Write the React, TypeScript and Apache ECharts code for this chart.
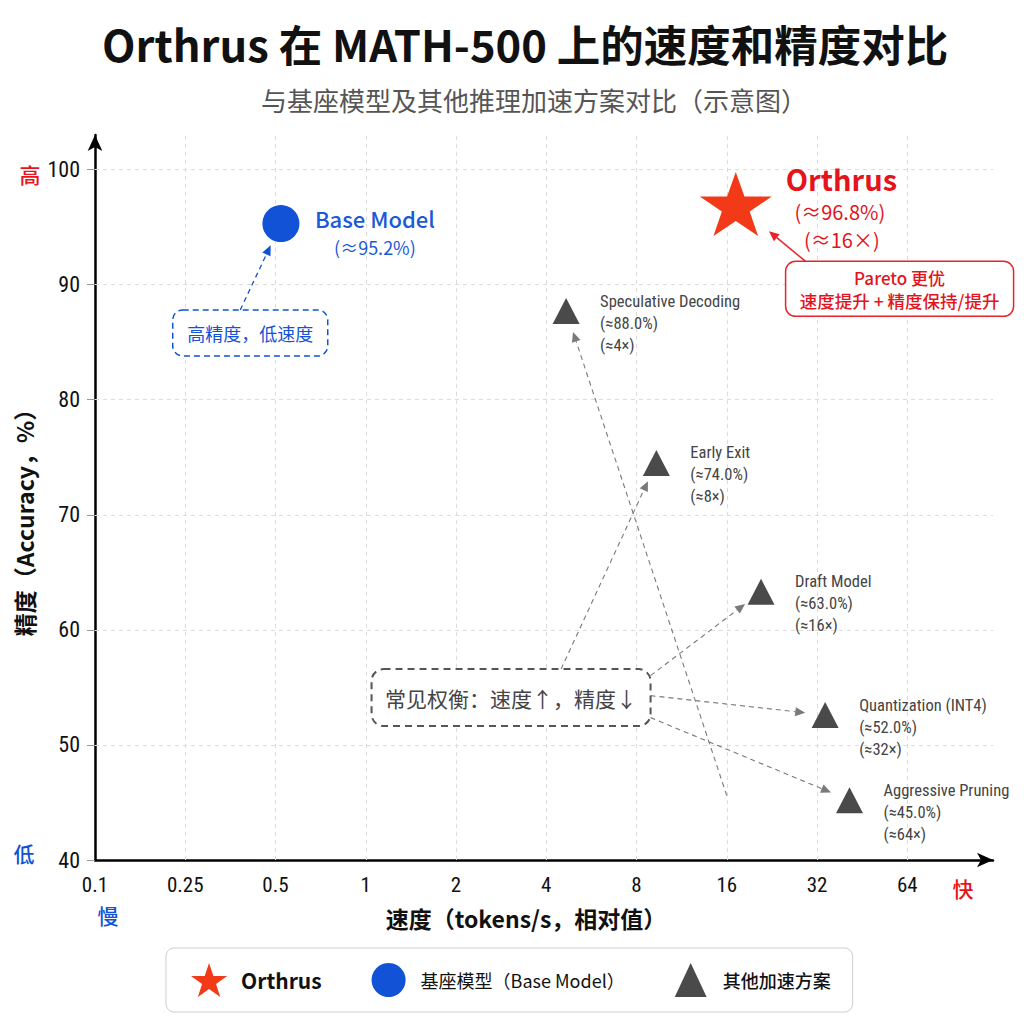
import React, { useEffect, useRef } from 'react';
import * as echarts from 'echarts';

// ---- data ----
const speedTicks = ['0.1', '0.25', '0.5', '1', '2', '4', '8', '16', '32', '64'];
const accuracyTicks = [40, 50, 60, 70, 80, 90, 100];

// x = position on the (evenly spaced) speed scale, index of speedTicks; y = accuracy %
const orthrusPoint = [7.1, 97.0];
const basePoint = [2.06, 95.3];
const otherNames = ['Speculative Decoding', 'Early Exit', 'Draft Model', 'Quantization (INT4)', 'Aggressive Pruning'];
const otherX = [5.22, 6.22, 7.38, 8.09, 8.36];
const otherY = [87.7, 74.5, 63.3, 52.6, 45.2];
const otherAccText = ['(≈88.0%)', '(≈74.0%)', '(≈63.0%)', '(≈52.0%)', '(≈45.0%)'];
const otherSpeedText = ['(≈4×)', '(≈8×)', '(≈16×)', '(≈32×)', '(≈64×)'];

const seriesNames = ['Orthrus', '基座模型（Base Model）', '其他加速方案'];

// annotation anchors in data coordinates
const box1Center = [1.72, 85.8];
const box2Center = [8.915, 89.63];
const box3Center = [4.61, 54.11];
const specArrowStart = [7.0, 45.6];

const CJK = "'Noto Sans CJK SC', 'Noto Sans', sans-serif";
const NARROW = "'Roboto Condensed', 'Liberation Sans Narrow', 'Roboto', sans-serif";
const RED = '#e3141c';
const STAR = '#f23a18';
const BLUE = '#1152d6';
const TRI = '#4a4a4a';

const starPath = 'path://M50,0 L61.8,35.1 L98.9,35.1 L68.9,56.9 L80.3,92.1 L50,70.3 L19.7,92.1 L31.1,56.9 L1.1,35.1 L38.2,35.1 Z';
const triPath = 'path://M15,0 L30,32 L0,32 Z';

function arrow(sx: number, sy: number, ex: number, ey: number, color: string, dashed: boolean, width: number) {
  const dx = ex - sx, dy = ey - sy;
  const L = Math.hypot(dx, dy);
  const ux = dx / L, uy = dy / L;
  const hl = 10, hw = 4.5;
  const bx = ex - ux * hl, by = ey - uy * hl;
  return [
    { type: 'line', z: 50, shape: { x1: sx, y1: sy, x2: bx, y2: by }, style: { stroke: color, lineWidth: width, lineDash: dashed ? [5, 4] : null } },
    { type: 'polygon', z: 50, shape: { points: [[ex, ey], [bx - uy * hw, by + ux * hw], [bx + uy * hw, by - ux * hw]] }, style: { fill: color } },
  ];
}

function toward(p: number[], s: number[], d: number) {
  const dx = s[0] - p[0], dy = s[1] - p[1];
  const L = Math.hypot(dx, dy);
  return [p[0] + (dx / L) * d, p[1] + (dy / L) * d];
}

export default function App() {
  const ref = useRef<HTMLDivElement>(null);
  useEffect(() => {
    if (!ref.current) return;
    const chart = echarts.init(ref.current, null, { renderer: 'svg' });
    const gridMarks = [
      ...speedTicks.slice(1).map((_, i) => ({ xAxis: i + 1 })),
      ...accuracyTicks.slice(1).map((v) => ({ yAxis: v })),
    ];
    chart.setOption({
      animation: false,
      backgroundColor: '#ffffff',
      title: [
        { text: 'Orthrus 在 MATH-500 上的速度和精度对比', left: 97, top: 17, textStyle: { fontFamily: CJK, fontSize: 43.5, fontWeight: 'bold', color: '#111' } },
        { text: '与基座模型及其他推理加速方案对比（示意图）', left: 256, top: 81, textStyle: { fontFamily: CJK, fontSize: 26, fontWeight: 'normal', color: '#555' } },
      ],
      grid: { left: 95, right: 31, top: 135, bottom: 164 },
      xAxis: {
        type: 'value', min: 0, max: 9.95, interval: 1,
        axisLine: { lineStyle: { color: '#000', width: 2.5 }, symbol: ['none', 'arrow'], symbolSize: [11, 16] },
        axisTick: { show: false },
        splitLine: { show: false },
        axisLabel: {
          customValues: speedTicks.map((_, i) => i),
          formatter: (v: number) => (Number.isInteger(v) && v >= 0 && v < speedTicks.length ? speedTicks[v] : ''),
          fontFamily: NARROW, fontSize: 21, color: '#111', margin: 14,
        },
      },
      yAxis: {
        type: 'value', min: 40, max: 103, interval: 10,
        axisLine: { show: true, lineStyle: { color: '#000', width: 2.5 }, symbol: ['none', 'arrow'], symbolSize: [11, 16] },
        axisTick: { show: true, customValues: accuracyTicks, length: 8, lineStyle: { color: '#999' } },
        splitLine: { show: false },
        axisLabel: {
          customValues: accuracyTicks,
          formatter: (v: number) => (accuracyTicks.indexOf(v) >= 0 ? String(v) : ''),
          fontFamily: NARROW, fontSize: 22, color: '#111', margin: 15,
        },
      },
      legend: {
        left: 166, top: 948,
        padding: [15, 22, 15, 25],
        itemGap: 50, itemWidth: 54, itemHeight: 34,
        backgroundColor: '#fff', borderColor: '#cfcfcf', borderWidth: 1, borderRadius: 8,
        data: [
          { name: seriesNames[0], textStyle: { fontFamily: CJK, fontSize: 21, fontWeight: 'bold', color: '#111' } },
          { name: seriesNames[1], textStyle: { fontFamily: CJK, fontSize: 18, color: '#111' } },
          { name: seriesNames[2], icon: triPath, textStyle: { fontFamily: CJK, fontSize: 18, fontWeight: 500, color: '#111' } },
        ],
      },
      series: [
        {
          name: seriesNames[0], type: 'scatter', z: 5, symbol: starPath, symbolSize: [72, 68], symbolKeepAspect: true,
          itemStyle: { color: STAR, opacity: 1 }, data: [orthrusPoint],
        },
        {
          name: seriesNames[1], type: 'scatter', z: 5, symbol: 'circle', symbolSize: 37,
          itemStyle: { color: BLUE, opacity: 1 }, data: [basePoint],
        },
        {
          name: seriesNames[2], type: 'scatter', z: 5, symbol: 'triangle', symbolSize: [27, 26],
          itemStyle: { color: TRI, opacity: 1 }, data: otherX.map((x, i) => [x, otherY[i]]),
          markLine: {
            silent: true, symbol: ['none', 'none'], z: 1, label: { show: false },
            lineStyle: { color: '#dcdcdc', type: [4, 4], width: 1 },
            data: gridMarks,
          },
        },
      ],
    });

    const px = (p: number[]) => chart.convertToPixel({ gridIndex: 0 }, p) as number[];
    const g: any[] = [];

    // Base model label
    const b = px(basePoint);
    g.push({ type: 'text', z: 60, x: b[0] + 34, y: b[1] - 6, style: { text: 'Base Model', fill: '#1a5ad7', fontFamily: CJK, fontSize: 22, fontWeight: 500, align: 'left', verticalAlign: 'middle' } });
    g.push({ type: 'text', z: 60, x: b[0] + 94, y: b[1] + 23, style: { text: '(≈95.2%)', fill: '#1a5ad7', fontFamily: CJK, fontSize: 18, align: 'center', verticalAlign: 'middle' } });

    // Orthrus label
    const o = px(orthrusPoint);
    g.push({ type: 'text', z: 60, x: o[0] + 50, y: o[1] - 26, style: { text: 'Orthrus', fill: RED, fontFamily: CJK, fontSize: 29, fontWeight: 'bold', align: 'left', verticalAlign: 'middle' } });
    g.push({ type: 'text', z: 60, x: o[0] + 104, y: o[1] + 7, style: { text: '(≈96.8%)', fill: RED, fontFamily: CJK, fontSize: 20, align: 'center', verticalAlign: 'middle' } });
    g.push({ type: 'text', z: 60, x: o[0] + 106, y: o[1] + 35, style: { text: '(≈16×)', fill: RED, fontFamily: CJK, fontSize: 20, align: 'center', verticalAlign: 'middle' } });

    // other methods labels
    const triPts = otherX.map((x, i) => px([x, otherY[i]]));
    triPts.forEach((p, i) => {
      g.push({ type: 'text', z: 60, x: p[0] + 34, y: p[1] - 21, style: { text: otherNames[i] + '\n' + otherAccText[i] + '\n' + otherSpeedText[i], fill: '#444', fontFamily: NARROW, fontSize: 16.5, lineHeight: 22, align: 'left', verticalAlign: 'top' } });
    });

    // box 1: 高精度，低速度
    const c1 = px(box1Center);
    const w1 = 155, h1 = 46;
    g.push({ type: 'rect', z: 55, shape: { x: c1[0] - w1 / 2, y: c1[1] - h1 / 2, width: w1, height: h1, r: 10 }, style: { fill: '#fff', stroke: BLUE, lineWidth: 1.5, lineDash: [6, 4] } });
    g.push({ type: 'text', z: 60, x: c1[0], y: c1[1], style: { text: '高精度，低速度', fill: BLUE, fontFamily: CJK, fontSize: 18, align: 'center', verticalAlign: 'middle' } });
    const s1 = [c1[0] - 10, c1[1] - h1 / 2];
    const e1 = toward(b, s1, 24);
    g.push(...arrow(s1[0], s1[1], e1[0], e1[1], BLUE, true, 1.3));

    // box 2: Pareto
    const c2 = px(box2Center);
    const w2 = 228, h2 = 55;
    g.push({ type: 'rect', z: 55, shape: { x: c2[0] - w2 / 2, y: c2[1] - h2 / 2, width: w2, height: h2, r: 10 }, style: { fill: '#fff', stroke: '#e8232a', lineWidth: 1.5 } });
    g.push({ type: 'text', z: 60, x: c2[0], y: c2[1] - 11, style: { text: 'Pareto 更优', fill: RED, fontFamily: CJK, fontSize: 17, fontWeight: 500, align: 'center', verticalAlign: 'middle' } });
    g.push({ type: 'text', z: 60, x: c2[0], y: c2[1] + 12, style: { text: '速度提升 + 精度保持/提升', fill: RED, fontFamily: CJK, fontSize: 17.5, fontWeight: 500, align: 'center', verticalAlign: 'middle' } });
    const s2 = [c2[0] - w2 / 2 + 20, c2[1] - h2 / 2];
    const e2 = toward(o, s2, 43);
    g.push(...arrow(s2[0], s2[1], e2[0], e2[1], '#e8232a', false, 1.5));

    // box 3: 常见权衡
    const c3 = px(box3Center);
    const w3 = 279, h3 = 57;
    g.push({ type: 'rect', z: 55, shape: { x: c3[0] - w3 / 2, y: c3[1] - h3 / 2, width: w3, height: h3, r: 12 }, style: { fill: '#fff', stroke: '#555', lineWidth: 2, lineDash: [7, 5] } });
    g.push({ type: 'text', z: 60, x: c3[0], y: c3[1], style: { text: '常见权衡：速度↑，精度↓', fill: '#444', fontFamily: CJK, fontSize: 21, align: 'center', verticalAlign: 'middle' } });
    const grey = '#7a7a7a';
    const starts = [
      [c3[0] + 50, c3[1] - h3 / 2],
      [c3[0] + w3 / 2, c3[1] - 22],
      [c3[0] + w3 / 2, c3[1] - 2],
      [c3[0] + w3 / 2, c3[1] + 20],
    ];
    [1, 2, 3, 4].forEach((ti, k) => {
      const e = toward(triPts[ti], starts[k], 20);
      g.push(...arrow(starts[k][0], starts[k][1], e[0], e[1], grey, true, 1.1));
    });
    const ss = px(specArrowStart);
    const es = toward(triPts[0], ss, 22);
    g.push(...arrow(ss[0], ss[1], es[0], es[1], grey, true, 1.1));

    // axis names & direction hints
    g.push({ type: 'text', z: 60, x: 526, y: 918, style: { text: '速度（tokens/s，相对值）', fill: '#111', fontFamily: CJK, fontSize: 23, fontWeight: 'bold', align: 'center', verticalAlign: 'middle' } });
    g.push({ type: 'text', z: 60, x: 24, y: 517, rotation: Math.PI / 2, style: { text: '精度（Accuracy，%）', fill: '#111', fontFamily: CJK, fontSize: 23, fontWeight: 'bold', align: 'center', verticalAlign: 'middle' } });
    g.push({ type: 'text', z: 60, x: 30, y: 174, style: { text: '高', fill: '#e8141c', fontFamily: CJK, fontSize: 21, fontWeight: 500, align: 'center', verticalAlign: 'middle' } });
    g.push({ type: 'text', z: 60, x: 24, y: 853, style: { text: '低', fill: BLUE, fontFamily: CJK, fontSize: 21, fontWeight: 500, align: 'center', verticalAlign: 'middle' } });
    g.push({ type: 'text', z: 60, x: 108, y: 915, style: { text: '慢', fill: BLUE, fontFamily: CJK, fontSize: 21, fontWeight: 500, align: 'center', verticalAlign: 'middle' } });
    g.push({ type: 'text', z: 60, x: 963, y: 888, style: { text: '快', fill: '#e8141c', fontFamily: CJK, fontSize: 21, fontWeight: 500, align: 'center', verticalAlign: 'middle' } });

    chart.setOption({ graphic: g });
    return () => chart.dispose();
  }, []);
  return <div ref={ref} style={{ position: 'absolute', left: 0, top: 0, width: 1024, height: 1024, background: '#fff' }} />;
}
